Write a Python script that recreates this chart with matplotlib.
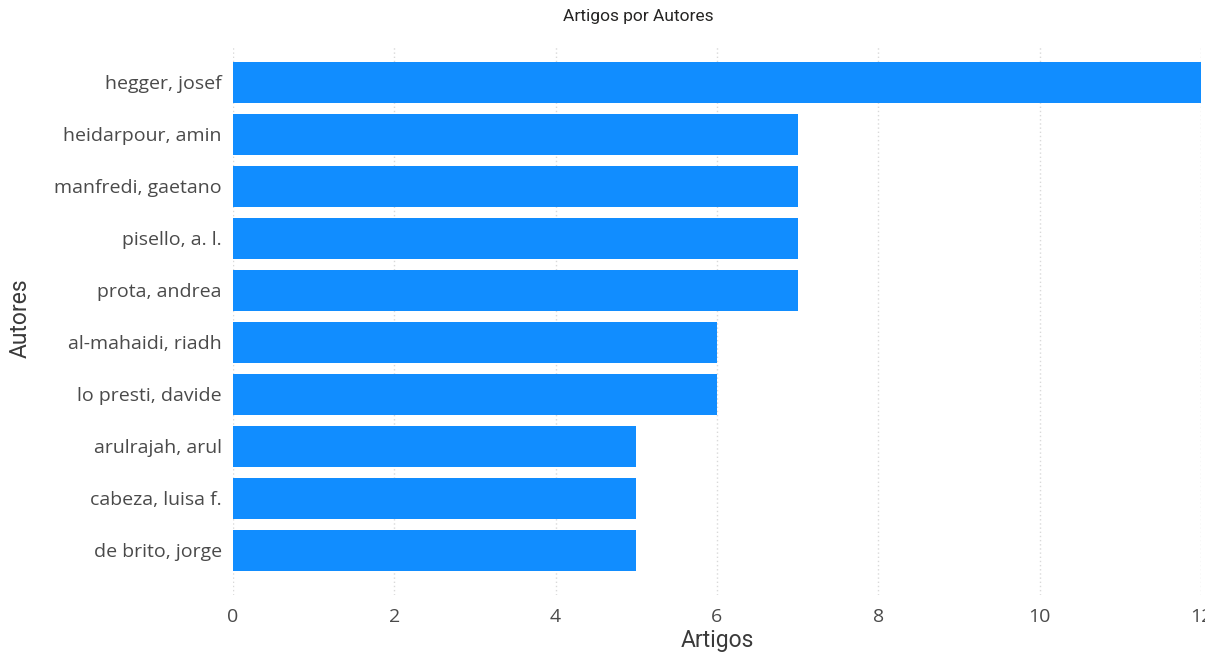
import matplotlib
matplotlib.use("Agg")
import matplotlib.pyplot as plt
from matplotlib.transforms import Bbox

authors = ["hegger, josef", "heidarpour, amin", "manfredi, gaetano", "pisello, a. l.",
           "prota, andrea", "al-mahaidi, riadh", "lo presti, davide", "arulrajah, arul",
           "cabeza, luisa f.", "de brito, jorge"]
articles = [12, 7, 7, 7, 7, 6, 6, 5, 5, 5]
x_ticks = [0, 2, 4, 6, 8, 10, 12]

W, H = 1214, 655
fig = plt.figure(figsize=(W / 100, H / 100), dpi=100)
left, right, top, bottom = 233, 1201, 45, 595
ax = fig.add_axes([left / W, 1 - bottom / H, (right - left) / W, (bottom - top) / H])

pos = list(range(len(authors)))
ax.barh(pos, articles, height=0.79, color="#118DFF", zorder=3)
ax.set_ylim(9.856, -0.72)
ax.set_xlim(0, 12)
ax.set_xticks(x_ticks)
ax.set_xticklabels([str(t) for t in x_ticks])
ax.set_yticks(pos)
ax.set_yticklabels(authors)

for s in ax.spines.values():
    s.set_visible(False)
ax.tick_params(axis="both", length=0, colors="#4A4A4A", labelsize=14)
ax.tick_params(axis="y", pad=8)
ax.tick_params(axis="x", pad=9)
for lab in ax.get_xticklabels() + ax.get_yticklabels():
    lab.set_fontfamily("Open Sans")
ax.xaxis.grid(True, color="#D9D9D9", linestyle=(0, (1, 2)), linewidth=1, zorder=0)
ax.yaxis.grid(False)

# the right-most tick label runs past the visual's edge and is cut off there
edge = Bbox.from_extents(0, 0, 1205, H)
for lab in ax.get_xticklabels():
    lab.set_clip_box(edge)
    lab.set_clip_on(True)

fig.text(638 / W, 1 - 17 / H, "Artigos por Autores", ha="center", va="center",
         fontsize=12.5, color="#252423", family="Roboto")
fig.text(717 / W, 1 - 640 / H, "Artigos", ha="center", va="center",
         fontsize=16.5, color="#3A3A3A", family="Roboto")
fig.text(20 / W, 1 - 318 / H, "Autores", ha="center", va="center", rotation=90,
         fontsize=16.5, color="#3A3A3A", family="Roboto")

fig.savefig("out.png", dpi=100)
